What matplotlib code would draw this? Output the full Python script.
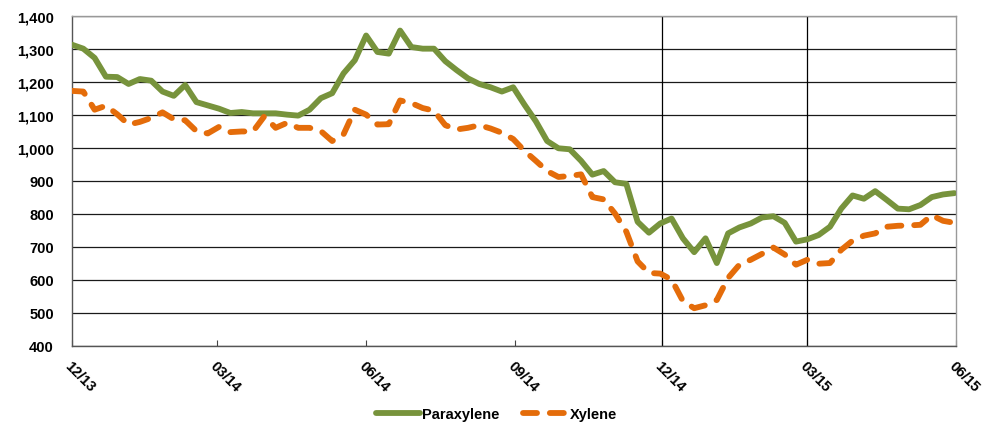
import matplotlib
matplotlib.use("Agg")
import matplotlib.pyplot as plt
import matplotlib.ticker as mticker
import datetime as dt

plt.rcParams['font.family'] = ['Liberation Sans', 'DejaVu Sans']

start = dt.date(2013, 12, 1)
n_weeks = 79
dates = [start + dt.timedelta(days=7 * k) for k in range(n_weeks)]

paraxylene = [
    1312, 1300, 1272, 1215, 1214, 1193, 1208, 1203, 1170, 1157,
    1190, 1138, 1128, 1118, 1105, 1108, 1104, 1104, 1104, 1100,
    1097, 1115, 1150, 1165, 1225, 1265, 1340, 1290, 1285, 1355,
    1305, 1300, 1300, 1262, 1235, 1210, 1193, 1183, 1170, 1183,
    1130, 1080, 1020, 998, 995, 960, 918, 929, 895, 890,
    775, 742, 770, 785, 725, 683, 725, 650, 740, 758,
    770, 788, 792, 772, 715, 722, 735, 760, 815, 855,
    845, 868, 842, 815, 813, 826, 850, 858, 862,
]
xylene = [
    1172, 1170, 1115, 1127, 1101, 1070, 1078, 1090, 1107, 1086,
    1083, 1050, 1043, 1063, 1047, 1049, 1049, 1095, 1060, 1075,
    1060, 1060, 1050, 1020, 1040, 1115, 1100, 1070, 1071, 1143,
    1135, 1120, 1112, 1068, 1055, 1060, 1068, 1058, 1045, 1026,
    990, 960, 929, 911, 914, 919, 850, 843, 800, 745,
    655, 620, 618, 600, 535, 513, 522, 538, 605, 645,
    660, 678, 697, 676, 645, 660, 648, 650, 690, 718,
    733, 740, 760, 763, 764, 766, 795, 778, 772,
]

tick_dates = [dt.date(2013, 12, 1), dt.date(2014, 3, 1), dt.date(2014, 6, 1),
              dt.date(2014, 9, 1), dt.date(2014, 12, 1), dt.date(2015, 3, 1),
              dt.date(2015, 6, 1)]
tick_labels = ['12/13', '03/14', '06/14', '09/14', '12/14', '03/15', '06/15']
vline_dates = [dt.date(2014, 12, 1), dt.date(2015, 3, 1)]

green = '#77933C'
orange = '#E46C0A'

fig = plt.figure(figsize=(9.87, 4.27), dpi=100)
ax = fig.add_axes([72 / 987, 1 - 346.5 / 427, (956 - 72) / 987, (346.5 - 16.7) / 427])

ax.plot(dates, paraxylene, color=green, lw=4.2, solid_joinstyle='round',
        solid_capstyle='round', label='Paraxylene', zorder=3)
ax.plot(dates, xylene, color=orange, lw=4.2, dashes=(2.4, 2.2),
        dash_capstyle='round', dash_joinstyle='round', label='Xylene', zorder=3)

for d in vline_dates:
    ax.axvline(d, color='#000000', lw=0.9, zorder=2)

ax.set_ylim(400, 1400)
ax.set_yticks(range(400, 1401, 100))
ax.yaxis.set_major_formatter(mticker.FuncFormatter(lambda v, p: f'{int(v):,}'))
ax.grid(axis='y', color='#1a1a1a', lw=0.9, zorder=1)
ax.set_axisbelow(True)

ax.set_xlim(tick_dates[0], tick_dates[-1])
ax.set_xticks(tick_dates)
ax.set_xticklabels(tick_labels, rotation=-45, ha='left', va='top',
                   rotation_mode='anchor', fontweight='bold', fontsize=10.5)
for lbl in ax.get_yticklabels():
    lbl.set_fontweight('bold')
    lbl.set_fontsize(10.5)

ax.tick_params(axis='x', direction='in', length=4, width=0.8, color='#444444', pad=9)
ax.tick_params(axis='y', length=0, pad=13)

for side in ['left', 'bottom']:
    ax.spines[side].set_color('#555555')
    ax.spines[side].set_linewidth(1.0)
for side in ['top', 'right']:
    ax.spines[side].set_color('#999999')
    ax.spines[side].set_linewidth(1.0)

leg = fig.legend(loc='lower center', bbox_to_anchor=(0.503, -0.02), ncol=2,
                 frameon=False, prop={'weight': 'bold', 'size': 10.5},
                 handlelength=3.0, handletextpad=0.2, columnspacing=1.6)

fig.savefig('out.png', dpi=100)
